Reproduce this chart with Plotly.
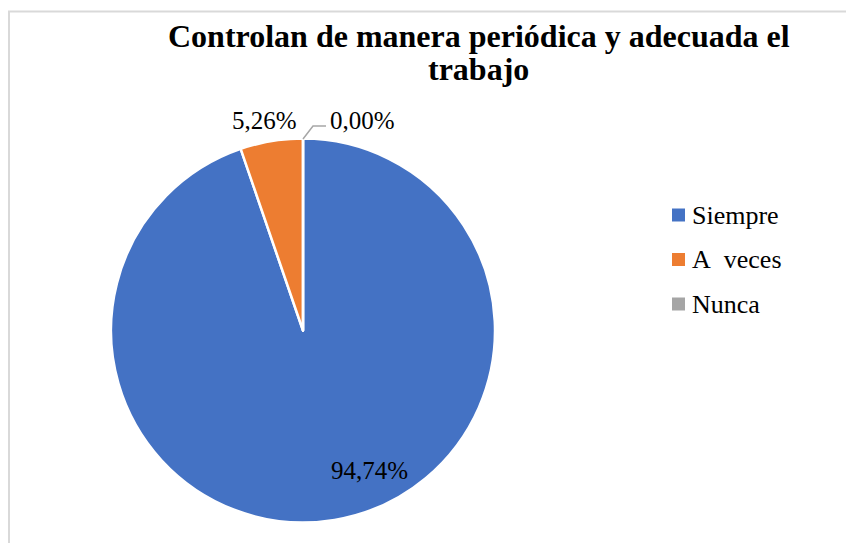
import plotly.graph_objects as go

categories = ["Siempre", "A\u00a0\u00a0veces", "Nunca"]
values = [94.74, 5.26, 0.00]
colors = ["#4472C4", "#ED7D31", "#A5A5A5"]
title_lines = ["Controlan de manera periódica y adecuada el", "trabajo"]

W, H = 854, 543
OFF = 8  # page body margin
FONT = "Liberation Serif, Times New Roman, serif"

def px(x):
    return (x - OFF) / W

def py(y):
    return 1 - (y - OFF) / H

cx, cy, r = 303, 330.5, 192

fig = go.Figure()
fig.add_trace(go.Pie(
    labels=categories,
    values=values,
    sort=False,
    direction="clockwise",
    rotation=0,
    textinfo="none",
    marker=dict(colors=colors, line=dict(color="white", width=2.5)),
    domain=dict(x=[px(cx - r), px(cx + r)], y=[py(cy + r), py(cy - r)]),
    showlegend=False,
))

def fmt(v):
    return f"{v:.2f}".replace(".", ",") + "%"

label_pos = [(369, 470), (264, 120), (362, 120)]
annotations = []
for v, (lx, ly) in zip(values, label_pos):
    annotations.append(dict(
        x=px(lx), y=py(ly), xref="paper", yref="paper",
        text=fmt(v), showarrow=False, xanchor="center", yanchor="middle",
        font=dict(family=FONT, size=25, color="#000000"),
    ))

for line, ty in zip(title_lines, [36, 69]):
    annotations.append(dict(
        x=px(479), y=py(ty), xref="paper", yref="paper",
        text="<b>" + line + "</b>", showarrow=False,
        xanchor="center", yanchor="middle",
        font=dict(family=FONT, size=32, color="#000000"),
    ))

shapes = [
    dict(type="rect", xref="paper", yref="paper",
         x0=px(9), x1=px(W + 40), y0=py(H + 40), y1=py(11.5),
         line=dict(color="#D9D9D9", width=2), fillcolor="rgba(0,0,0,0)"),
    dict(type="path", xref="paper", yref="paper",
         path=f"M {px(303)} {py(139)} L {px(313)} {py(126)} L {px(326)} {py(126)}",
         line=dict(color="#A6A6A6", width=1.5)),
]

leg_y = [215, 259.5, 304]
for cat, col, ly in zip(categories, colors, leg_y):
    shapes.append(dict(type="rect", xref="paper", yref="paper",
                       x0=px(672), x1=px(685), y0=py(ly + 6.5), y1=py(ly - 6.5),
                       fillcolor=col, line=dict(width=0)))
    annotations.append(dict(
        x=px(690), y=py(ly), xref="paper", yref="paper",
        text=cat, showarrow=False, xanchor="left", yanchor="middle",
        font=dict(family=FONT, size=26, color="#000000"),
    ))

fig.update_layout(
    width=W, height=H,
    margin=dict(l=0, r=0, t=0, b=0),
    paper_bgcolor="white",
    plot_bgcolor="white",
    annotations=annotations,
    shapes=shapes,
    showlegend=False,
)

fig.write_html("out.html")
